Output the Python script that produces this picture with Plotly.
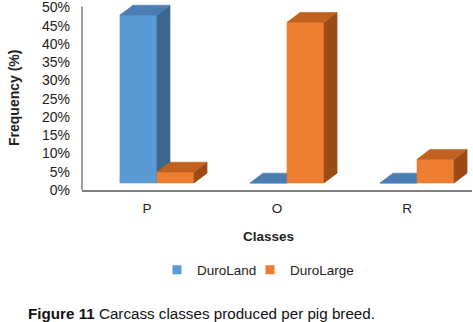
import plotly.graph_objects as go

# ---- data ----
categories = ["P", "O", "R"]
duroland = [46.0, 0.0, 0.0]
durolarge = [3.0, 44.0, 6.5]
series_names = ["DuroLand", "DuroLarge"]
y_tickvals = [0, 5, 10, 15, 20, 25, 30, 35, 40, 45, 50]

# ---- styles ----
FRONT = ["#5B9BD5", "#ED7D31"]
TOP = ["#4A7DB2", "#C0611F"]
SIDE = ["#3B6690", "#9C4A16"]
FLOOR = 1.92    # visual floor offset of the 3-D bars (y units)
W = 0.285       # bar width (x units)
X0 = -0.208     # left edge of first bar relative to category
DX = 0.1        # depth offset, x units
DY = 2.7        # depth offset, y units
FONT = "Liberation Sans, Arial, sans-serif"

fig = go.Figure()

def poly(xs, ys, color):
    fig.add_trace(go.Scatter(
        x=xs + [xs[0]], y=ys + [ys[0]], mode="lines", fill="toself",
        fillcolor=color, line=dict(color=color, width=0.6),
        hoverinfo="skip", showlegend=False))

for s, vals in enumerate([duroland, durolarge]):
    for i, v in enumerate(vals):
        xl = i + X0 + s * W
        xr = xl + W
        yb = FLOOR
        yt = FLOOR + v
        # front face
        poly([xl, xr, xr, xl], [yb, yb, yt, yt], FRONT[s])
        # side face
        poly([xr, xr + DX, xr + DX, xr], [yb, yb + DY, yt + DY, yt], SIDE[s])
        # top face
        poly([xl, xr, xr + DX, xl + DX], [yt, yt, yt + DY, yt + DY], TOP[s])

L, R, T, B = 82, 1, 2, 132
W_FIG, H_FIG = 473, 322
ph = H_FIG - T - B
pw = W_FIG - L - R

def px(xp):
    return (xp - L) / pw

def py(yp):
    return (H_FIG - B - yp) / ph

# legend entries (one legend per series so their spacing matches the reference)
legend_ids = ["legend", "legend2"]
legend_left_px = [157, 250]
for s, name in enumerate(series_names):
    fig.add_trace(go.Scatter(
        x=[None], y=[None], mode="markers", name=name, legend=legend_ids[s],
        marker=dict(symbol="square", size=9, color=FRONT[s])))

legend_style = dict(orientation="h", xanchor="left", y=py(270), yanchor="middle",
                    font=dict(size=13.5, color="#222222"),
                    bgcolor="rgba(0,0,0,0)", itemwidth=30, borderwidth=0)

fig.update_layout(
    width=W_FIG, height=H_FIG, autosize=False,
    margin=dict(l=L, r=R, t=T, b=B, autoexpand=False),
    paper_bgcolor="white", plot_bgcolor="white",
    font=dict(family=FONT, size=13, color="#333333"),
    xaxis=dict(range=[-0.5, 2.5], tickmode="array", tickvals=list(range(len(categories))),
               ticktext=categories, showgrid=False, zeroline=False,
               showline=True, linecolor="#808080", linewidth=1.5,
               ticks="", ticklabelstandoff=5, fixedrange=True, automargin=False,
               tickfont=dict(size=13.5, color="#222222")),
    yaxis=dict(range=[0, 51.5], tickmode="array", tickvals=y_tickvals,
               ticktext=[f"{v}%" for v in y_tickvals], showgrid=False,
               zeroline=False, showline=False, ticks="", ticklabelstandoff=11,
               ticklabeloverflow="allow",
               fixedrange=True, automargin=False,
               tickfont=dict(size=14, color="#222222")),
    legend=dict(x=px(legend_left_px[0]), **legend_style),
    legend2=dict(x=px(legend_left_px[1]), **legend_style),
    showlegend=True,
)

fig.add_shape(type="line", xref="paper", yref="y", x0=0, x1=0, y0=0, y1=50.3,
              line=dict(color="#808080", width=1.5))

fig.add_annotation(text="<b>Frequency (%)</b>", xref="paper", yref="paper",
                   x=px(14), y=py(98), textangle=-90, showarrow=False,
                   xanchor="center", yanchor="middle",
                   font=dict(size=14, color="#222222"))
fig.add_annotation(text="<b>Classes</b>", xref="paper", yref="paper",
                   x=px(268), y=py(236), showarrow=False,
                   xanchor="center", yanchor="middle",
                   font=dict(size=13.5, color="#222222"))
fig.add_annotation(text="<b>Figure 11</b> Carcass classes produced per pig breed.",
                   xref="paper", yref="paper", x=px(26), y=py(313),
                   showarrow=False, xanchor="left", yanchor="middle",
                   font=dict(size=15.2, color="#111111"))

fig.write_html("out.html", config={"displayModeBar": False},
               post_script="document.body.style.margin='0';document.body.style.overflow='hidden';")
